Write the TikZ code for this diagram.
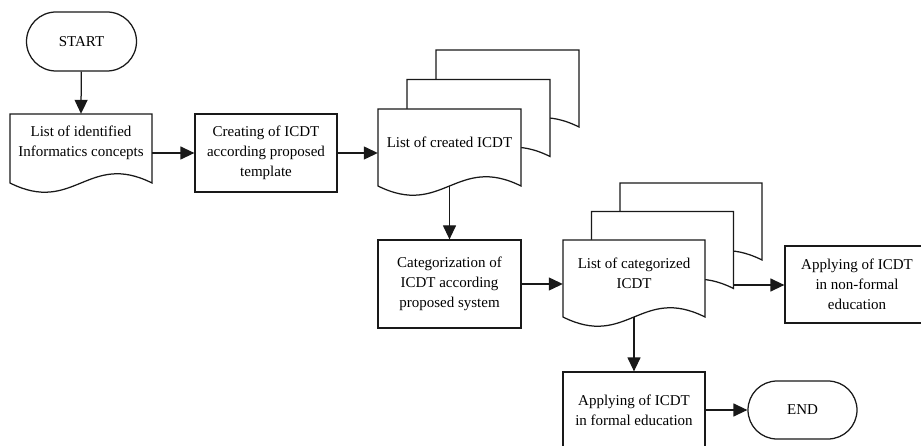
\documentclass[tikz,border=0pt]{standalone}
\usepackage{fontspec}
\setmainfont{Liberation Serif}
\usetikzlibrary{shapes.misc,arrows.meta}
\newcommand\mydoc[4]{%
  \pgfmathsetmacro\cA{#1+0.45*(#3-#1)}%
  \pgfmathsetmacro\cB{#1+0.55*(#3-#1)}%
  \draw[base,fill=white] (#1,#2) -- (#3,#2) -- (#3,#4)
     .. controls (\cB,#4-32) and (\cA,#4+32) .. (#1,#4) -- cycle;}
\tikzset{
  base/.style={draw=black!90, line width=1.25pt},
  txt/.style={font=\fontsize{15}{20}\selectfont, align=center, inner sep=0pt},
  proc/.style={base, txt, rectangle, fill=white},
  term/.style={base, txt, rounded rectangle, fill=white},
  ghost/.style={rectangle, inner sep=0pt},
  arr/.style={base, -{Triangle[length=14pt,width=13pt]}}
}
\begin{document}
\begin{tikzpicture}[x=1pt,y=-1pt]
\clip (0,0) rectangle (921,446);
\fill[white] (0,0) rectangle (921,446);
% START
\node[term, minimum width=110pt, minimum height=59pt] (start) at (81.5,41.5) {START};
% document 1
\mydoc{10}{114}{152}{183}
\node[ghost, minimum width=142pt, minimum height=69pt] (doc1) at (81,148.5) {};
\node[txt] (t1) at (81,143) {List of identified\\Informatics concepts};
% Creating
\node[proc, minimum width=142pt, minimum height=78pt] (cre) at (266,153) {Creating of ICDT\\according proposed\\template};
% stack 1
\mydoc{436}{50}{579}{127}
\mydoc{407}{79.5}{550}{156.5}
\mydoc{378}{109}{521}{186}
\node[ghost, minimum width=143pt, minimum height=77pt] (doc2) at (449.5,147.5) {};
\node[txt] (t2) at (449.5,142) {List of created ICDT};
% Categorization
\node[proc, minimum width=143pt, minimum height=88pt] (cat) at (449.5,284) {Categorization of\\ICDT according\\proposed system};
% stack 2
\mydoc{620}{183}{762}{260}
\mydoc{591.5}{211.5}{733.5}{288.5}
\mydoc{563}{240}{705}{317}
\node[ghost, minimum width=142pt, minimum height=77pt] (doc3) at (634,278.5) {};
\node[txt] (t3) at (634,273.5) {List of categorized\\ICDT};
\coordinate (m2) at (733.5,285);
% non-formal
\node[proc, minimum width=144pt, minimum height=77pt] (nonf) at (857,284.5) {Applying of ICDT\\in non-formal\\education};
% formal
\node[proc, minimum width=142pt, minimum height=76pt] (form) at (634,410) {Applying of ICDT\\in formal education};
% END
\node[term, minimum width=109pt, minimum height=58pt] (end) at (802.5,410) {END};
% connectors
\draw[arr] (start) -- (doc1.north);
\draw[arr] (doc1.east |- cre.west) -- (cre.west);
\draw[arr] (cre.east) -- (doc2.west |- cre.east);
\draw[arr] (doc2.south) -- (cat.north);
\draw[arr] (cat.east) -- (doc3.west |- cat.east);
\draw[arr] (m2) -- (nonf.west |- m2);
\draw[arr] (doc3.south) -- (form.north);
\draw[arr] (form.east) -- (end.west);
\end{tikzpicture}
\end{document}
